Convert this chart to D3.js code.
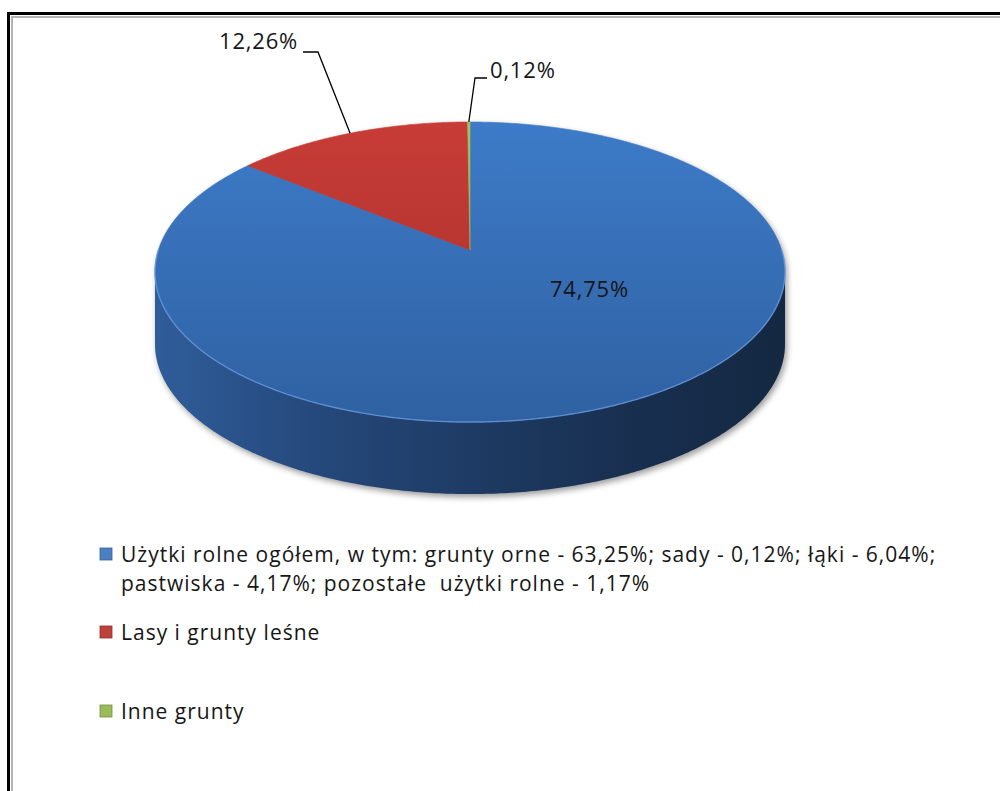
<!DOCTYPE html>
<html>
<head>
<meta charset="utf-8">
<script src="https://cdn.jsdelivr.net/npm/d3@7"></script>
<style>
  html, body { margin: 0; padding: 0; background: #fff; }
  svg { display: block; }
  text { font-family: "Open Sans", "DejaVu Sans", sans-serif; fill: #161616; white-space: pre; }
</style>
</head>
<body>
<svg id="chart" width="1000" height="791"></svg>
<script>
// Land-use structure (percent of total area)
const categories = [
  "Użytki rolne ogółem, w tym: grunty orne - 63,25%; sady - 0,12%; łąki - 6,04%; pastwiska - 4,17%; pozostałe  użytki rolne - 1,17%",
  "Lasy i grunty leśne",
  "Inne grunty"
];
const shares = [74.75, 12.26, 0.12];
const topColors = [["#3d7bc8", "#2f61a2"], ["#c83c37", "#a42e2a"], ["#a2c25e", "#86a546"]];
const markerColors = ["#4a7fc4", "#c0403c", "#9bbb59"];

const svg = d3.select("#chart");
const W = 1000, H = 791;
const fmt = v => d3.format(".2f")(v).replace(".", ",") + "%";

// ---- frame ----
svg.append("rect").attr("x", 0).attr("y", 0).attr("width", W).attr("height", H).attr("fill", "#fff");
svg.append("rect").attr("x", 8.5).attr("y", 13.5).attr("width", W + 20).attr("height", H + 20)
  .attr("fill", "none").attr("stroke", "#000").attr("stroke-width", 3);
svg.append("rect").attr("x", 12).attr("y", 17).attr("width", W + 20).attr("height", H + 20)
  .attr("fill", "none").attr("stroke", "#b4b4b4").attr("stroke-width", 2);

// ---- perspective disc projection ----
const cx = 470, cy = 250;        // projected centre of the disc
const ax = 311.6, by = 146.8;    // horizontal / depth scale
const k = -0.1468;               // perspective factor (near side larger)
const T = 72;                    // thickness of the pie
function proj(theta, r = 1) {
  const u = r * Math.sin(theta), v = -r * Math.cos(theta);
  const w = 1 + k * v;
  return [cx + ax * u / w, cy + by * v / w];
}
function arcPts(a0, a1, r = 1, dy = 0) {
  const n = Math.max(2, Math.ceil(Math.abs(a1 - a0) / 0.01));
  return d3.range(n + 1).map(i => {
    const p = proj(a0 + (a1 - a0) * i / n, r);
    return [p[0], p[1] + dy];
  });
}

const pie = d3.pie().sort(null).startAngle(0).endAngle(2 * Math.PI);
const arcs = pie(shares);

const defs = svg.append("defs");
topColors.forEach((c, i) => {
  const g = defs.append("linearGradient").attr("id", "top" + i)
    .attr("gradientUnits", "userSpaceOnUse").attr("x1", 0).attr("y1", 122).attr("x2", 0).attr("y2", 422);
  g.append("stop").attr("offset", 0).attr("stop-color", c[0]);
  g.append("stop").attr("offset", 1).attr("stop-color", c[1]);
});
const sideG = defs.append("linearGradient").attr("id", "side")
  .attr("gradientUnits", "userSpaceOnUse").attr("x1", 155).attr("y1", 0).attr("x2", 785).attr("y2", 0);
[[0, "#2f5d9a"], [0.25, "#25497c"], [0.5, "#1e3b64"], [0.75, "#182f50"], [1, "#142841"]]
  .forEach(s => sideG.append("stop").attr("offset", s[0]).attr("stop-color", s[1]));
const blur = defs.append("filter").attr("id", "shadow").attr("x", "-10%").attr("y", "-10%").attr("width", "120%").attr("height", "130%");
blur.append("feGaussianBlur").attr("stdDeviation", 3);

const line = d3.line();

// silhouette angles: where the projected rim reaches its horizontal extremes
const sA = Math.acos(k);                // ~98.4°
const sB = 2 * Math.PI - Math.acos(k);  // ~261.6°

// ---- soft shadow under the pie ----
const sidePtsBottom = arcPts(sA, sB, 1, T);
svg.append("path")
  .attr("d", line(arcPts(sB, sA + 2 * Math.PI, 1, 0).concat(sidePtsBottom)) + "Z")
  .attr("transform", "translate(2,3)")
  .attr("fill", "#000").attr("opacity", 0.4).attr("filter", "url(#shadow)");

// ---- side wall (front half) ----
const sideTop = arcPts(sA, sB, 1, 0);
const sideBottom = arcPts(sB, sA, 1, T);
svg.append("path")
  .attr("d", line(sideTop.concat(sideBottom)) + "Z")
  .attr("fill", "url(#side)");

// ---- top face slices ----
svg.append("g").selectAll("path").data(arcs).join("path")
  .attr("d", d => line([proj(0, 0)].concat(arcPts(d.startAngle, d.endAngle))) + "Z")
  .attr("fill", (d, i) => `url(#top${i})`)
  .attr("stroke", (d, i) => `url(#top${i})`).attr("stroke-width", 0.6);

// light rim along the front edge of the top face
svg.append("path")
  .attr("d", line(arcPts(sA - 0.15, sB + 0.15)))
  .attr("fill", "none").attr("stroke", "#6a9be0").attr("stroke-width", 1.4).attr("opacity", 0.75);

// ---- data labels ----
const labelStyle = sel => sel.style("font-size", "22px").style("letter-spacing", "0.8px");
// inside label for the main slice
const lp = proj(125 * Math.PI / 180, 0.45);
svg.append("text").attr("x", lp[0]).attr("y", lp[1]).attr("dy", "0.36em")
  .attr("text-anchor", "middle").call(labelStyle).text(fmt(shares[0]));

// outside labels with leader lines
const leaders = [
  { i: 1, elbow: [318, 52], end: [303, 52], tx: 298, ty: 49, anchor: "end" },
  { i: 2, elbow: [475, 78], end: [487, 78], tx: 490, ty: 78, anchor: "start" }
];
leaders.forEach(L => {
  const d = arcs[L.i];
  const p = proj((d.startAngle + d.endAngle) / 2);
  svg.append("path").attr("d", line([p, L.elbow, L.end]))
    .attr("fill", "none").attr("stroke", "#000").attr("stroke-width", 1.3);
  svg.append("text").attr("x", L.tx).attr("y", L.ty).attr("text-anchor", L.anchor)
    .call(labelStyle).text(fmt(shares[L.i]));
});

// ---- legend ----
const legendX = 121, markerX = 100;
const legendRows = [{ y: 562 }, { y: 640 }, { y: 719 }];
const lineGap = 29, wrapWidth = 840;
const legend = svg.append("g").style("font-size", "21px").style("letter-spacing", "1px");
categories.forEach((name, i) => {
  const row = legendRows[i];
  legend.append("rect").attr("x", markerX).attr("y", row.y - 14).attr("width", 12).attr("height", 12)
    .attr("fill", markerColors[i]).attr("stroke", d3.color(markerColors[i]).darker(0.8)).attr("stroke-width", 0.8);
  // wrap long names word by word
  const words = name.split(" ");
  let lines = [], cur = "";
  const probe = legend.append("text");
  words.forEach(w => {
    const test = cur === "" ? w : cur + " " + w;
    probe.text(test);
    if (probe.node().getComputedTextLength() > wrapWidth && cur !== "") {
      lines.push(cur); cur = w;
    } else cur = test;
  });
  lines.push(cur);
  probe.remove();
  lines.forEach((ln, j) => {
    legend.append("text").attr("x", legendX).attr("y", row.y + j * lineGap).text(ln);
  });
});
</script>
</body>
</html>
